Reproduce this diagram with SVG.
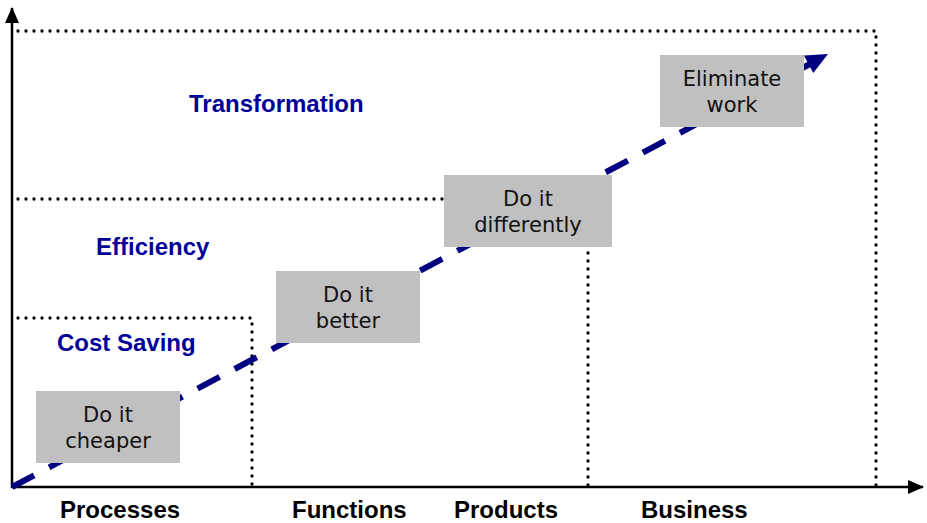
<svg xmlns="http://www.w3.org/2000/svg" width="927" height="523" viewBox="0 0 927 523">
  <style>
    .axis { stroke: #000; stroke-width: 2.5; fill: none; }
    .dots { stroke: #000; stroke-width: 3.3; stroke-linecap: round; stroke-dasharray: 0 8; fill: none; }
    .trend { stroke: #000080; stroke-width: 6; stroke-dasharray: 25 17; fill: none; }
    .head { fill: #000080; }
    .box { fill: #C0C0C0; }
    .boxtxt { font-family: "DejaVu Sans", Verdana, sans-serif; font-size: 21px; fill: #111; text-anchor: middle; }
    .level { font-family: "Liberation Sans", Arial, sans-serif; font-size: 24px; font-weight: bold; fill: #000099; }
    .cat { font-family: "Liberation Sans", Arial, sans-serif; font-size: 24px; font-weight: bold; fill: #000; }
  </style>
  <defs>
    <marker id="axisHead" viewBox="0 0 16 14" refX="15" refY="7" markerWidth="16" markerHeight="14" markerUnits="userSpaceOnUse" orient="auto">
      <path d="M0,0 L16,7 L0,14 Z" fill="#000"/>
    </marker>
  </defs>

  <!-- axes -->
  <g id="axes">
    <line class="axis" x1="12" y1="488" x2="12" y2="8" marker-end="url(#axisHead)"/>
    <line class="axis" x1="11" y1="487" x2="923" y2="487" marker-end="url(#axisHead)"/>
  </g>

  <!-- level boundaries and trend arrow -->
  <g id="connectors">
    <polyline class="dots" points="18,31 876,31 876,487"/>
    <polyline class="dots" points="18,199 444,199"/>
    <polyline class="dots" points="588,253 588,487"/>
    <polyline class="dots" points="18,318 252,318 252,487"/>
    <line class="trend" x1="12" y1="487" x2="810" y2="64"/>
    <polygon class="head" points="828,54 813.3,73.1 803.9,55.5"/>
  </g>

  <!-- level labels -->
  <g id="levels">
    <text class="level" x="189" y="112">Transformation</text>
    <text class="level" x="96" y="255">Efficiency</text>
    <text class="level" x="57" y="351">Cost Saving</text>
  </g>

  <!-- category labels -->
  <g id="categories">
    <text class="cat" x="60" y="518">Processes</text>
    <text class="cat" x="292" y="518">Functions</text>
    <text class="cat" x="454" y="518">Products</text>
    <text class="cat" x="641" y="518">Business</text>
  </g>

  <g id="cheaper">
    <rect class="box" x="36" y="391" width="144" height="72"/>
    <text class="boxtxt" x="108" y="422">Do it</text>
    <text class="boxtxt" x="108" y="448">cheaper</text>
  </g>
  <g id="better">
    <rect class="box" x="276" y="271" width="144" height="72"/>
    <text class="boxtxt" x="348" y="302">Do it</text>
    <text class="boxtxt" x="348" y="328">better</text>
  </g>
  <g id="differently">
    <rect class="box" x="444" y="175" width="168" height="72"/>
    <text class="boxtxt" x="528" y="206">Do it</text>
    <text class="boxtxt" x="528" y="232">differently</text>
  </g>
  <g id="eliminate">
    <rect class="box" x="660" y="55" width="144" height="72"/>
    <text class="boxtxt" x="732" y="86">Eliminate</text>
    <text class="boxtxt" x="732" y="112">work</text>
  </g>
</svg>
